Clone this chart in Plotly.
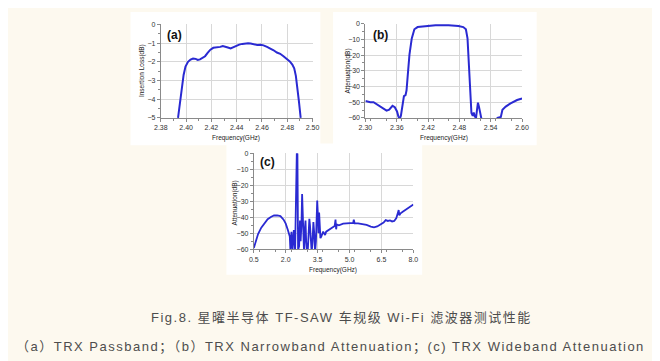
import plotly.graph_objects as go

# ---------------- data ----------------
a_freq = [2.3936, 2.3950, 2.3965, 2.3980, 2.3995, 2.4015, 2.4035, 2.4055, 2.4075, 2.4092,
          2.4110, 2.4132, 2.4150, 2.4170, 2.4192, 2.4215, 2.4249, 2.4270, 2.4290, 2.4310,
          2.4330, 2.4352, 2.4372, 2.4392, 2.4420, 2.4444, 2.4470, 2.4490, 2.4510, 2.4535,
          2.4562, 2.4590, 2.4612, 2.4640, 2.4665, 2.4692, 2.4718, 2.4744, 2.4770, 2.4797,
          2.4820, 2.4840, 2.4855, 2.4868, 2.4880, 2.4892, 2.4906]
a_loss = [-5.0, -4.2, -3.3, -2.7, -2.25, -2.0, -1.88, -1.82, -1.84, -1.9,
          -1.87, -1.80, -1.70, -1.52, -1.35, -1.25, -1.24, -1.20, -1.15, -1.17,
          -1.23, -1.28, -1.22, -1.15, -1.08, -1.04, -1.01, -1.00, -1.02, -1.06,
          -1.10, -1.09, -1.12, -1.20, -1.28, -1.38, -1.50, -1.57, -1.70, -1.85,
          -1.98, -2.15, -2.35, -2.75, -3.30, -4.10, -5.0]

b_freq = [2.3000, 2.3094, 2.3156, 2.3219, 2.3313, 2.3406, 2.3456, 2.3519, 2.3563, 2.3606,
          2.3631, 2.3656, 2.3680, 2.3706, 2.3719, 2.3738, 2.3769, 2.3788, 2.3813, 2.3844,
          2.3888, 2.3938, 2.4000, 2.4094, 2.4344, 2.4594, 2.4781, 2.4875, 2.4925, 2.4956,
          2.4981, 2.5006, 2.5031, 2.5056, 2.5075, 2.5094, 2.5119, 2.5138, 2.5156, 2.5175,
          2.5194, 2.5219, 2.5350, 2.5531, 2.5594, 2.5625, 2.5688, 2.5781, 2.5906, 2.6000]
b_att = [-49.2, -50.0, -50.0, -51.3, -53.2, -55.4, -54.8, -52.3, -53.2, -55.9,
         -59.0, -60.8, -58.6, -52.8, -48.2, -46.1, -45.5, -42.4, -32.1, -19.7,
         -9.3, -3.5, -2.1, -1.7, -1.0, -1.0, -1.4, -2.1, -3.5, -9.3,
         -25.9, -44.5, -56.9, -58.6, -56.5, -59.0, -60.0, -54.8, -50.3, -52.8,
         -56.9, -60.0, -68.0, -60.0, -59.4, -54.8, -52.8, -50.7, -48.6, -47.6]

c_freq = [0.50, 0.60, 0.70, 0.85, 1.00, 1.15, 1.30, 1.45, 1.60, 1.75,
          1.90, 2.00, 2.10, 2.19, 2.22, 2.27, 2.32, 2.38, 2.44, 2.49,
          2.52, 2.55, 2.58, 2.63, 2.67, 2.70, 2.74, 2.77, 2.80, 2.83,
          2.86, 2.90, 2.93, 2.96, 3.00, 3.04, 3.08, 3.11, 3.14, 3.18,
          3.22, 3.26, 3.30, 3.34, 3.38, 3.42, 3.46, 3.48, 3.51, 3.54,
          3.57, 3.60, 3.63, 3.67, 3.72, 3.76, 3.80, 3.85, 3.90, 4.00,
          4.15, 4.30, 4.34, 4.37, 4.40, 4.50, 4.70, 4.90, 5.10, 5.17,
          5.20, 5.24, 5.40, 5.60, 5.80, 6.00, 6.15, 6.30, 6.45, 6.60,
          6.70, 6.80, 6.90, 7.00, 7.10, 7.20, 7.28, 7.31, 7.34, 7.40,
          7.50, 7.60, 7.70, 7.80, 7.90, 8.00]
c_att = [-59.2, -54.0, -50.5, -46.5, -43.5, -41.2, -39.8, -38.9, -38.8, -39.3,
         -41.5, -44.0, -48.0, -52.0, -60.5, -49.0, -60.5, -48.0, -61.0, -0.4,
         0.0, -0.4, -60.5, -58.0, -42.0, -55.0, -44.0, -25.5, -45.0, -60.0,
         -62.0, -47.0, -42.0, -55.0, -62.0, -60.0, -44.0, -41.0, -45.0, -55.0,
         -62.0, -55.0, -43.0, -50.0, -62.0, -55.0, -32.0, -29.5, -38.0, -50.0,
         -37.0, -45.0, -53.0, -52.0, -50.0, -49.0, -50.0, -51.0, -49.0, -48.0,
         -46.5, -45.5, -41.5, -47.5, -44.5, -45.0, -44.0, -43.7, -43.3, -43.5,
         -41.5, -43.8, -43.8, -44.2, -44.8, -45.8, -46.3, -45.7, -44.5, -43.3,
         -41.8, -42.3, -42.0, -42.6, -42.3, -40.5, -36.8, -35.5, -38.8, -37.5,
         -36.5, -35.5, -35.0, -34.0, -33.0, -32.0]

a_xticks = [2.38, 2.40, 2.42, 2.44, 2.46, 2.48, 2.50]
a_yticks = [0, -1, -2, -3, -4, -5]
b_xticks = [2.30, 2.36, 2.42, 2.48, 2.54, 2.60]
bc_yticks = [0, -10, -20, -30, -40, -50, -60]
c_xticks = [0.5, 2.0, 3.5, 5.0, 6.5, 8.0]

caption1 = "Fig.8. 星曜半导体 TF-SAW 车规级 Wi-Fi 滤波器测试性能"
caption2 = "（a）TRX Passband；（b）TRX Narrowband Attenuation；(c) TRX Wideband Attenuation"

# ---------------- layout helpers ----------------
W, H = 660, 361
def px(x):
    return x / W
def py(y):
    return 1 - y / H

LINE = "#2a2ad2"
GRID = "#d8d8d8"
AXC = "#8a8a8a"
TICKF = dict(family="Liberation Sans, Arial, sans-serif", size=7, color="#333333")

fig = go.Figure()

fig.add_trace(go.Scatter(x=a_freq, y=a_loss, mode="lines", line=dict(color=LINE, width=2),
                         xaxis="x", yaxis="y", showlegend=False))
fig.add_trace(go.Scatter(x=b_freq, y=b_att, mode="lines", line=dict(color=LINE, width=2),
                         xaxis="x2", yaxis="y2", showlegend=False))
fig.add_trace(go.Scatter(x=c_freq, y=c_att, mode="lines", line=dict(color=LINE, width=1.8),
                         xaxis="x3", yaxis="y3", showlegend=False))

def xax(dom, rng, ticks, fmt, minor_dtick, anchor):
    return dict(domain=dom, range=rng, tickvals=ticks, tickformat=fmt, anchor=anchor,
                showgrid=True, gridcolor=GRID, gridwidth=1, zeroline=False,
                showline=True, linecolor=AXC, linewidth=1,
                ticks="outside", ticklen=3, tickcolor=AXC, tickfont=TICKF,
                minor=dict(dtick=minor_dtick, ticks="outside", ticklen=2, tickcolor=AXC, showgrid=False),
                fixedrange=True)

def yax(dom, rng, ticks, minor_dtick, anchor):
    return dict(domain=dom, range=rng, tickvals=ticks, anchor=anchor,
                showgrid=True, gridcolor=GRID, gridwidth=1, zeroline=False,
                showline=True, linecolor=AXC, linewidth=1,
                ticks="outside", ticklen=3, tickcolor=AXC, tickfont=TICKF,
                minor=dict(dtick=minor_dtick, ticks="outside", ticklen=2, tickcolor=AXC, showgrid=False),
                fixedrange=True)

fig.update_layout(
    width=W, height=H,
    margin=dict(l=0, r=0, t=0, b=0),
    paper_bgcolor="#fdf9ef",
    plot_bgcolor="white",
    xaxis=xax([px(149), px(304)], [2.38, 2.50], a_xticks, ".2f", 0.01, "y"),
    yaxis=yax([py(108), py(12.7)], [-5, 0], a_yticks, 0.5, "x"),
    xaxis2=xax([px(358), px(518)], [2.30, 2.60], b_xticks, ".2f", 0.03, "y2"),
    yaxis2=yax([py(108), py(12)], [-60, 0], bc_yticks, 5, "x2"),
    xaxis3=xax([px(244), px(407)], [0.5, 8.0], c_xticks, ".1f", 0.75, "y3"),
    yaxis3=yax([py(242), py(144)], [-60, 0], bc_yticks, 5, "x3"),
)

# white image panels behind the plots
for (x0, y0, x1, y1) in [(118, 0, 312, 136), (325, 0, 533, 136), (216, 134, 416, 268)]:
    fig.add_shape(type="rect", xref="paper", yref="paper",
                  x0=px(x0), x1=px(x1), y0=py(y1), y1=py(y0),
                  fillcolor="white", line=dict(width=0), layer="below")

TF = dict(family="Liberation Sans, Arial, sans-serif", size=6.5, color="#222222")
PF = dict(family="Liberation Sans, Arial, sans-serif", size=12, color="#111111")

def ann(x, y, text, font, angle=0):
    fig.add_annotation(x=px(x), y=py(y), xref="paper", yref="paper", text=text,
                       showarrow=False, font=font, textangle=angle,
                       xanchor="center", yanchor="middle")

# axis titles
ann(226, 128, "Frequency(GHz)", TF)
ann(130, 60, "Insertion Loss(dB)", TF, -90)
ann(438, 128, "Frequency(GHz)", TF)
ann(340, 60, "Attenuation(dB)", TF, -90)
ann(325, 263, "Frequency(GHz)", TF)
ann(225, 195, "Attenuation(dB)", TF, -90)

# panel labels
ann(163, 23, "<b>(a)</b>", PF)
ann(373, 23, "<b>(b)</b>", PF)
ann(258, 153, "<b>(c)</b>", PF)

# caption (letter-spaced like the source page)
CF = dict(family="Liberation Sans, Noto Sans CJK SC, sans-serif", size=13, color="#4d4d4d")
ann(334, 312, '<span style="letter-spacing:1.5px">' + caption1 + "</span>", CF)
ann(322, 342, '<span style="letter-spacing:1.5px">' + caption2 + "</span>", CF)

fig.write_html("out.html")
